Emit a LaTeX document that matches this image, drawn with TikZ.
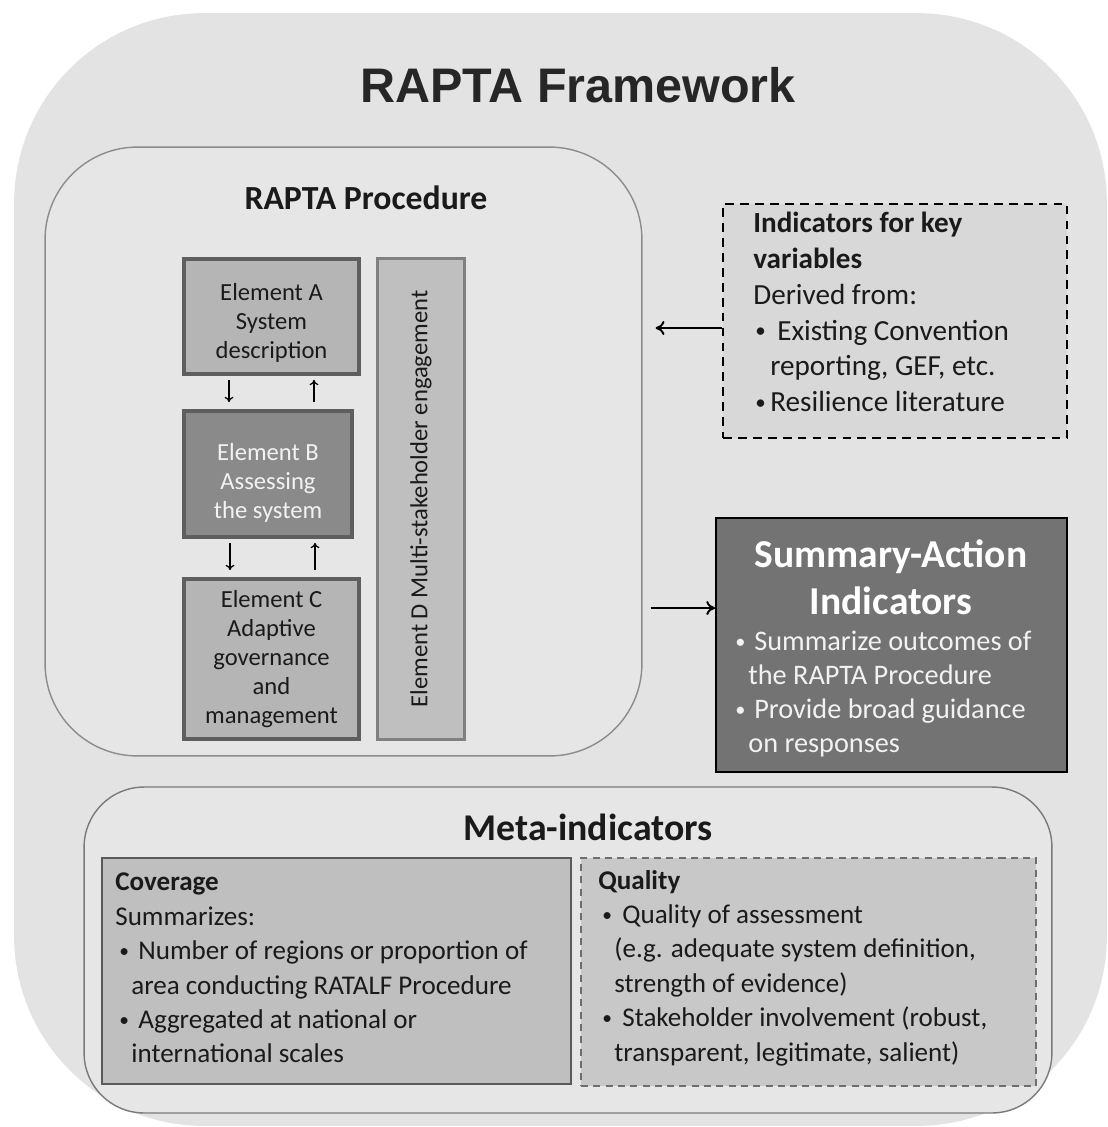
\documentclass[tikz,border=0pt]{standalone}
\usepackage{fontspec}
\setmainfont{Carlito}
\newfontfamily\arialfont{Liberation Sans}
\usepackage{graphicx}
\usepackage{tikz}
\usetikzlibrary{arrows.meta,positioning}

\definecolor{outerbg}{HTML}{E3E3E3}
\definecolor{procbg}{HTML}{E6E6E6}
\definecolor{procline}{HTML}{8C8C8C}
\definecolor{elemfill}{HTML}{B5B5B5}
\definecolor{elemdark}{HTML}{8A8A8A}
\definecolor{elemline}{HTML}{5E5E5E}
\definecolor{dfill}{HTML}{BFBFBF}
\definecolor{dline}{HTML}{808080}
\definecolor{indfill}{HTML}{D8D8D8}
\definecolor{sumfill}{HTML}{737373}
\definecolor{covfill}{HTML}{BFBFBF}
\definecolor{covline}{HTML}{5A5A5A}
\definecolor{qualfill}{HTML}{C8C8C8}
\definecolor{qualline}{HTML}{6E6E6E}
\definecolor{inktext}{HTML}{1A1A1A}

\newcommand\bul{\raisebox{0.15ex}{\scalebox{0.72}{\textbullet}}}

\tikzset{
  elem/.style={draw=elemline, line width=2.2pt, fill=elemfill, align=center, inner sep=0pt,
    text=inktext, font=\fontsize{14}{16.5}\selectfont},
  elemtext/.style={align=center, inner sep=0pt, font=\fontsize{14}{16.5}\selectfont},
  dashbox/.style={draw=black, line width=1pt, dash pattern=on 5pt off 3.5pt},
  bigarr/.style={-{To[length=5pt,width=8pt]}, line width=1.1pt},
  smallarr/.style={-{To[length=3pt,width=5pt]}, line width=0.7pt},
  bodytext/.style={align=left, inner sep=0pt, text=inktext},
}

\begin{document}
\begin{tikzpicture}[x=0.02cm,y=-0.02cm]
\useasboundingbox (0,0) rectangle (1108,1127);

\node[fill=outerbg, rounded corners=3.8cm, minimum width=21.86cm, minimum height=22.26cm] (frame) at (560.5,569.5) {};
\node[font=\arialfont\bfseries\fontsize{27.6}{32}\selectfont, text={rgb,255:red,38;green,38;blue,38}] (title) at (578,85) {RAPTA Framework};

\node[draw=procline, line width=0.8pt, fill=procbg, rounded corners=1.85cm, minimum width=11.94cm, minimum height=12.18cm] (proc) at (343.5,451.5) {};
\node[font=\bfseries\fontsize{19.2}{22}\selectfont, text=inktext] (proctitle) at (366,198) {RAPTA Procedure};

\node[elem, minimum width=3.5cm, minimum height=2.3cm] (A) at (271.5,316.5) {};
\node[elemtext, text=inktext] (atext) at (271.5,322.5) {Element A\\System\\description};
\node[elem, fill=elemdark, minimum width=3.36cm, minimum height=2.52cm] (B) at (268,474) {};
\node[elemtext, text={rgb,255:red,242;green,242;blue,242}] (btext) at (268,482.5) {Element B\\Assessing\\the system};
\node[elem, minimum width=3.5cm, minimum height=3.2cm] (C) at (271.5,659) {Element C\\Adaptive\\governance\\and\\management};
\node[draw=dline, line width=1.6pt, fill=dfill, minimum width=1.74cm, minimum height=9.62cm] (D) at (421,499) {};
\node[rotate=90, text=inktext, font=\fontsize{14}{16.5}\selectfont] (dlabel) at (D.center) {Element D Multi-stakeholder engagement};

\draw[smallarr, shorten <=0.08cm, shorten >=0.14cm] (A.south -| 229,0) -- (B.north -| 229,0);
\draw[smallarr, shorten <=0.14cm, shorten >=0.08cm] (B.north -| 314,0) -- (A.south -| 314,0);
\draw[smallarr, shorten <=0.08cm, shorten >=0.14cm] (B.south -| 230,0) -- (C.north -| 230,0);
\draw[smallarr, shorten <=0.14cm, shorten >=0.08cm] (C.north -| 315,0) -- (B.south -| 315,0);

\node[dashbox, fill=indfill, minimum width=6.88cm, minimum height=4.68cm] (ind) at (895,321) {};
\node[bodytext, anchor=west, font=\fontsize{16.6}{20.4}\selectfont] (indtext) at (753,312) {%
\textbf{Indicators for key}\\
\textbf{variables}\\
Derived from:\\
\hspace*{0.04cm}\makebox[0.44cm][l]{\bul}Existing Convention\\
\hspace*{0.34cm}reporting, GEF, etc.\\
\hspace*{0.04cm}\makebox[0.30cm][l]{\bul}Resilience literature};

\node[draw=black, line width=1.1pt, fill=sumfill, minimum width=7.02cm, minimum height=5.08cm] (sum) at (891.5,645) {};
\node[align=center, text=white, font=\bfseries\fontsize{22.5}{26.7}\selectfont] (sumtitle) at (891,577) {Summary-Action\\Indicators};
\node[bodytext, anchor=west, text={rgb,255:red,242;green,242;blue,242}, font=\fontsize{16.1}{19.4}\selectfont] (sumtext) at (733,694) {%
\hspace*{0.04cm}\makebox[0.38cm][l]{\bul}Summarize outcomes of\\
\hspace*{0.30cm}the RAPTA Procedure\\
\hspace*{0.04cm}\makebox[0.38cm][l]{\bul}Provide broad guidance\\
\hspace*{0.30cm}on responses};

\coordinate (indin) at ([yshift=-0.14cm]ind.west);
\draw[bigarr, shorten >=0.26cm] (indin) -- (indin -| proc.east);
\coordinate (sumin) at ([yshift=0.74cm]sum.west);
\draw[bigarr, shorten <=0.16cm] (sumin -| proc.east) -- (sumin);

\node[draw={rgb,255:red,122;green,122;blue,122}, line width=0.8pt, fill=procbg, rounded corners=1.2cm, minimum width=19.36cm, minimum height=6.52cm] (meta) at (568,950) {};
\node[font=\bfseries\fontsize{21.5}{24}\selectfont, text=inktext] (metatitle) at (588,827) {Meta-indicators};

\node[draw=covline, line width=1.1pt, fill=covfill, minimum width=9.38cm, minimum height=4.52cm] (cov) at (336.5,971) {};
\node[bodytext, anchor=west, font=\fontsize{15.4}{19.6}\selectfont] (covtext) at (115,968) {%
\textbf{Coverage}\\
Summarizes:\\
\hspace*{0.08cm}\makebox[0.38cm][l]{\bul}Number of regions or proportion of\\
\hspace*{0.32cm}area conducting RATALF Procedure\\
\hspace*{0.08cm}\makebox[0.38cm][l]{\bul}Aggregated at national or\\
\hspace*{0.32cm}international scales};

\node[draw=qualline, line width=1pt, dash pattern=on 4pt off 3pt, fill=qualfill, minimum width=9.1cm, minimum height=4.56cm] (qual) at (808.5,972) {};
\node[bodytext, anchor=west, font=\fontsize{15.4}{19.6}\selectfont] (qualtext) at (598,968) {%
\textbf{Quality}\\
\hspace*{0.08cm}\makebox[0.40cm][l]{\bul}Quality of assessment\\
\hspace*{0.32cm}(e.g. adequate system definition,\\
\hspace*{0.32cm}strength of evidence)\\
\hspace*{0.08cm}\makebox[0.40cm][l]{\bul}Stakeholder involvement (robust,\\
\hspace*{0.32cm}transparent, legitimate, salient)};

\end{tikzpicture}
\end{document}
